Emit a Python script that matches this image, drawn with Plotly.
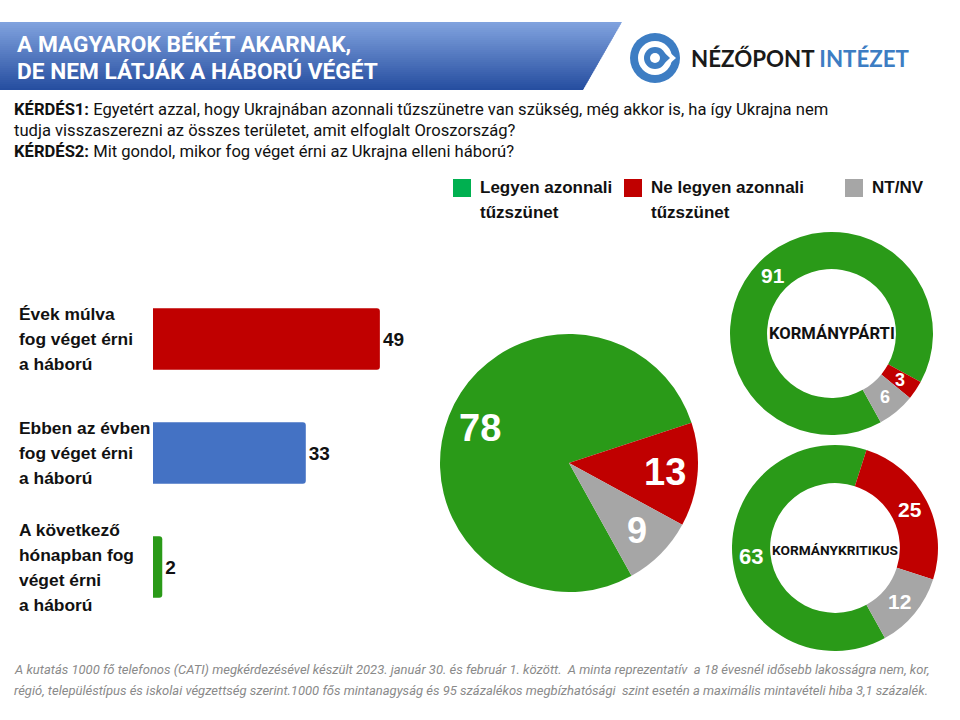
import math
import plotly.graph_objects as go

# ---------------- data ----------------
bar_categories = ["Évek múlva\nfog véget érni\na háború",
                  "Ebben az évben\nfog véget érni\na háború",
                  "A következő\nhónapban fog\nvéget érni\na háború"]
bar_values = [49, 33, 2]
bar_colors = ["#C00000", "#4472C4", "#2A9A18"]

slice_names = ["Legyen azonnali tűzszünet", "Ne legyen azonnali tűzszünet", "NT/NV"]
legend_labels = ["Legyen azonnali\ntűzszünet", "Ne legyen azonnali\ntűzszünet", "NT/NV"]
legend_colors = ["#00B050", "#C00000", "#A6A6A6"]
slice_colors = ["#2A9A18", "#C00000", "#A6A6A6"]

total_values = [78, 13, 9]
pro_gov_values = [91, 3, 6]
critic_values = [63, 25, 12]
donut_titles = ["KORMÁNYPÁRTI", "KORMÁNYKRITIKUS"]

title_lines = ["A MAGYAROK BÉKÉT AKARNAK,", "DE NEM LÁTJÁK A HÁBORÚ VÉGÉT"]
q1 = ("<b>KÉRDÉS1:</b> Egyetért azzal, hogy Ukrajnában azonnali tűzszünetre van szükség, még akkor is, ha így Ukrajna nem",
      "tudja visszaszerezni az összes területet, amit elfoglalt Oroszország?")
q2 = "<b>KÉRDÉS2:</b> Mit gondol, mikor fog véget érni az Ukrajna elleni háború?"
footer = ("A kutatás 1000 fő telefonos (CATI) megkérdezésével készült 2023. január 30. és február 1. között.  A minta reprezentatív  a 18 évesnél idősebb lakosságra nem, kor,",
          "régió, településtípus és iskolai végzettség szerint.1000 fős mintanagyság és 95 százalékos megbízhatósági  szint esetén a maximális mintavételi hiba 3,1 százalék.")

W, H = 960, 720
NARROW = "Roboto, Liberation Sans, sans-serif"
ARIAL = "Liberation Sans, Arial, sans-serif"


def px(x):
    return x / W


def py(y):
    return 1 - y / H


fig = go.Figure()
shapes = []
annotations = []

# ---------------- banner (vertical gradient) ----------------
top, bot = 22, 90
xr_top, xr_bot = 622, 583
N = 34
c0 = (128, 162, 222)
c1 = (38, 78, 160)
for i in range(N):
    y0 = top + (bot - top) * i / N
    y1 = min(top + (bot - top) * (i + 1) / N + 0.6, bot)
    t = i / (N - 1)
    col = "rgb(%d,%d,%d)" % tuple(round(c0[k] + (c1[k] - c0[k]) * t) for k in range(3))
    xa = xr_top + (xr_bot - xr_top) * (y0 - top) / (bot - top)
    xb = xr_top + (xr_bot - xr_top) * (y1 - top) / (bot - top)
    path = "M {} {} L {} {} L {} {} L {} {} Z".format(px(0), py(y0), px(xa), py(y0), px(xb), py(y1), px(0), py(y1))
    shapes.append(dict(type="path", path=path, xref="paper", yref="paper", fillcolor=col, line=dict(width=0), layer="below"))

for i, line in enumerate(title_lines):
    annotations.append(dict(text="<b>%s</b>" % line, x=px(15), y=py(44 + 28 * i), xref="paper", yref="paper",
                            xanchor="left", yanchor="middle", showarrow=False,
                            font=dict(family=NARROW, size=22.7, color="white")))

# ---------------- logo ----------------
cx, cy = 655, 58
logo_blue = "#3D7DC3"


def circ(r, color):
    return dict(type="circle", xref="paper", yref="paper", x0=px(cx - r), x1=px(cx + r), y0=py(cy + r), y1=py(cy - r),
                fillcolor=color, line=dict(width=0))


def tri(pts, color):
    p = "M " + " L ".join("{} {}".format(px(a), py(b)) for a, b in pts) + " Z"
    return dict(type="path", path=p, xref="paper", yref="paper", fillcolor=color, line=dict(width=0))


shapes.append(circ(25, logo_blue))
shapes.append(circ(17, "white"))
shapes.append(tri([(658, 42), (658, 74), (676, 58)], "white"))
shapes.append(circ(11, logo_blue))
shapes.append(tri([(660, 48.5), (660, 67.5), (670, 58)], logo_blue))
shapes.append(circ(5, "white"))
annotations.append(dict(text="NÉZŐPONT <span style='color:#3D7DC3'>INTÉZET</span>", x=px(689), y=py(58),
                        xref="paper", yref="paper", xanchor="left", yanchor="middle", showarrow=False,
                        font=dict(family="Lato, Open Sans, sans-serif", size=22.3, color="#1a1a1a", weight=700)))

# ---------------- questions ----------------
for text, yy in [(q1[0], 109), (q1[1], 130), (q2, 151)]:
    annotations.append(dict(text=text, x=px(12), y=py(yy), xref="paper", yref="paper", xanchor="left",
                            yanchor="middle", showarrow=False, font=dict(family=NARROW, size=16.6, color="#111111")))

# ---------------- legend ----------------
leg_x = [453, 624, 845]
for lx, lab, col in zip(leg_x, legend_labels, legend_colors):
    shapes.append(dict(type="rect", xref="paper", yref="paper", x0=px(lx), x1=px(lx + 18), y0=py(197), y1=py(179),
                       fillcolor=col, line=dict(width=0)))
    for j, part in enumerate(lab.split("\n")):
        annotations.append(dict(text="<b>%s</b>" % part, x=px(lx + 25), y=py(188 + 24 * j), xref="paper", yref="paper",
                                xanchor="left", yanchor="middle", showarrow=False,
                                font=dict(family=ARIAL, size=17, color="#111111")))

# ---------------- bars ----------------
fig.add_trace(go.Bar(
    x=bar_values, y=bar_categories, orientation="h",
    marker=dict(color=bar_colors, cornerradius=3, line=dict(width=0)),
    text=["<b>%d</b>" % v for v in bar_values], textposition="outside", cliponaxis=False,
    textfont=dict(family=ARIAL, size=19, color="#111111"), hoverinfo="skip", showlegend=False,
    xaxis="x", yaxis="y"))

for cat in bar_categories:
    parts = cat.split("\n")
    n = len(parts)
    for j, part in enumerate(parts):
        annotations.append(dict(text="<b>%s</b>" % part, x=px(17), y=cat, xref="paper", yref="y",
                                xanchor="left", yanchor="middle", yshift=-(j - (n - 1) / 2) * 25, showarrow=False,
                                font=dict(family=ARIAL, size=17.4, color="#111111")))

# ---------------- pies ----------------
ROT = 151


def add_pie(values, cxp, cyp, r, hole, label_sizes, rlab):
    fig.add_trace(go.Pie(values=values, labels=slice_names, sort=False, direction="clockwise", rotation=ROT,
                         hole=hole, marker=dict(colors=slice_colors, line=dict(width=0)), textinfo="none",
                         hoverinfo="label+value", showlegend=False,
                         domain=dict(x=[px(cxp - r), px(cxp + r)], y=[py(cyp + r), py(cyp - r)])))
    tot = sum(values)
    ang = ROT
    for v, s in zip(values, label_sizes):
        mid = ang + 180 * v / tot
        ang += 360 * v / tot
        a = math.radians(mid)
        lx = cxp + rlab * math.sin(a)
        ly = cyp - rlab * math.cos(a)
        annotations.append(dict(text="<b>%d</b>" % v, x=px(lx), y=py(ly), xref="paper", yref="paper",
                                xanchor="center", yanchor="middle", showarrow=False,
                                font=dict(family=ARIAL, size=s, color="white")))


add_pie(total_values, 569, 463, 129, 0, [38, 38, 36], 96)
add_pie(pro_gov_values, 831.5, 333.5, 101.5, 0.635, [21, 18, 18], 83)
add_pie(critic_values, 835, 548, 103, 0.63, [22, 21, 21], 84)

for title, (tx, ty, s) in zip(donut_titles, [(831.5, 333.5, 16.6), (835, 550, 13.7)]):
    annotations.append(dict(text="<b>%s</b>" % title, x=px(tx), y=py(ty), xref="paper", yref="paper",
                            xanchor="center", yanchor="middle", showarrow=False,
                            font=dict(family=NARROW, size=s, color="#111111")))

# ---------------- footer ----------------
for text, yy in [(footer[0], 669), (footer[1], 690)]:
    annotations.append(dict(text="<i>%s</i>" % text, x=px(12), y=py(yy), xref="paper", yref="paper",
                            xanchor="left", yanchor="middle", showarrow=False,
                            font=dict(family=NARROW, size=13, color="#8a8a8a")))

unit = 4.63
fig.update_layout(
    width=W, height=H, margin=dict(l=0, r=0, t=0, b=0),
    paper_bgcolor="white", plot_bgcolor="rgba(0,0,0,0)",
    xaxis=dict(domain=[px(153), px(153 + 60 * unit)], range=[0, 60], visible=False, fixedrange=True),
    yaxis=dict(domain=[py(624), py(282)], type="category", categoryorder="array", categoryarray=bar_categories,
               range=[2.5, -0.5], visible=False, fixedrange=True),
    bargap=0.46,
    shapes=shapes, annotations=annotations,
    font=dict(family=ARIAL),
)

fig.write_html("out.html", config={"displayModeBar": False},
               post_script="document.body.style.margin='0px';")
